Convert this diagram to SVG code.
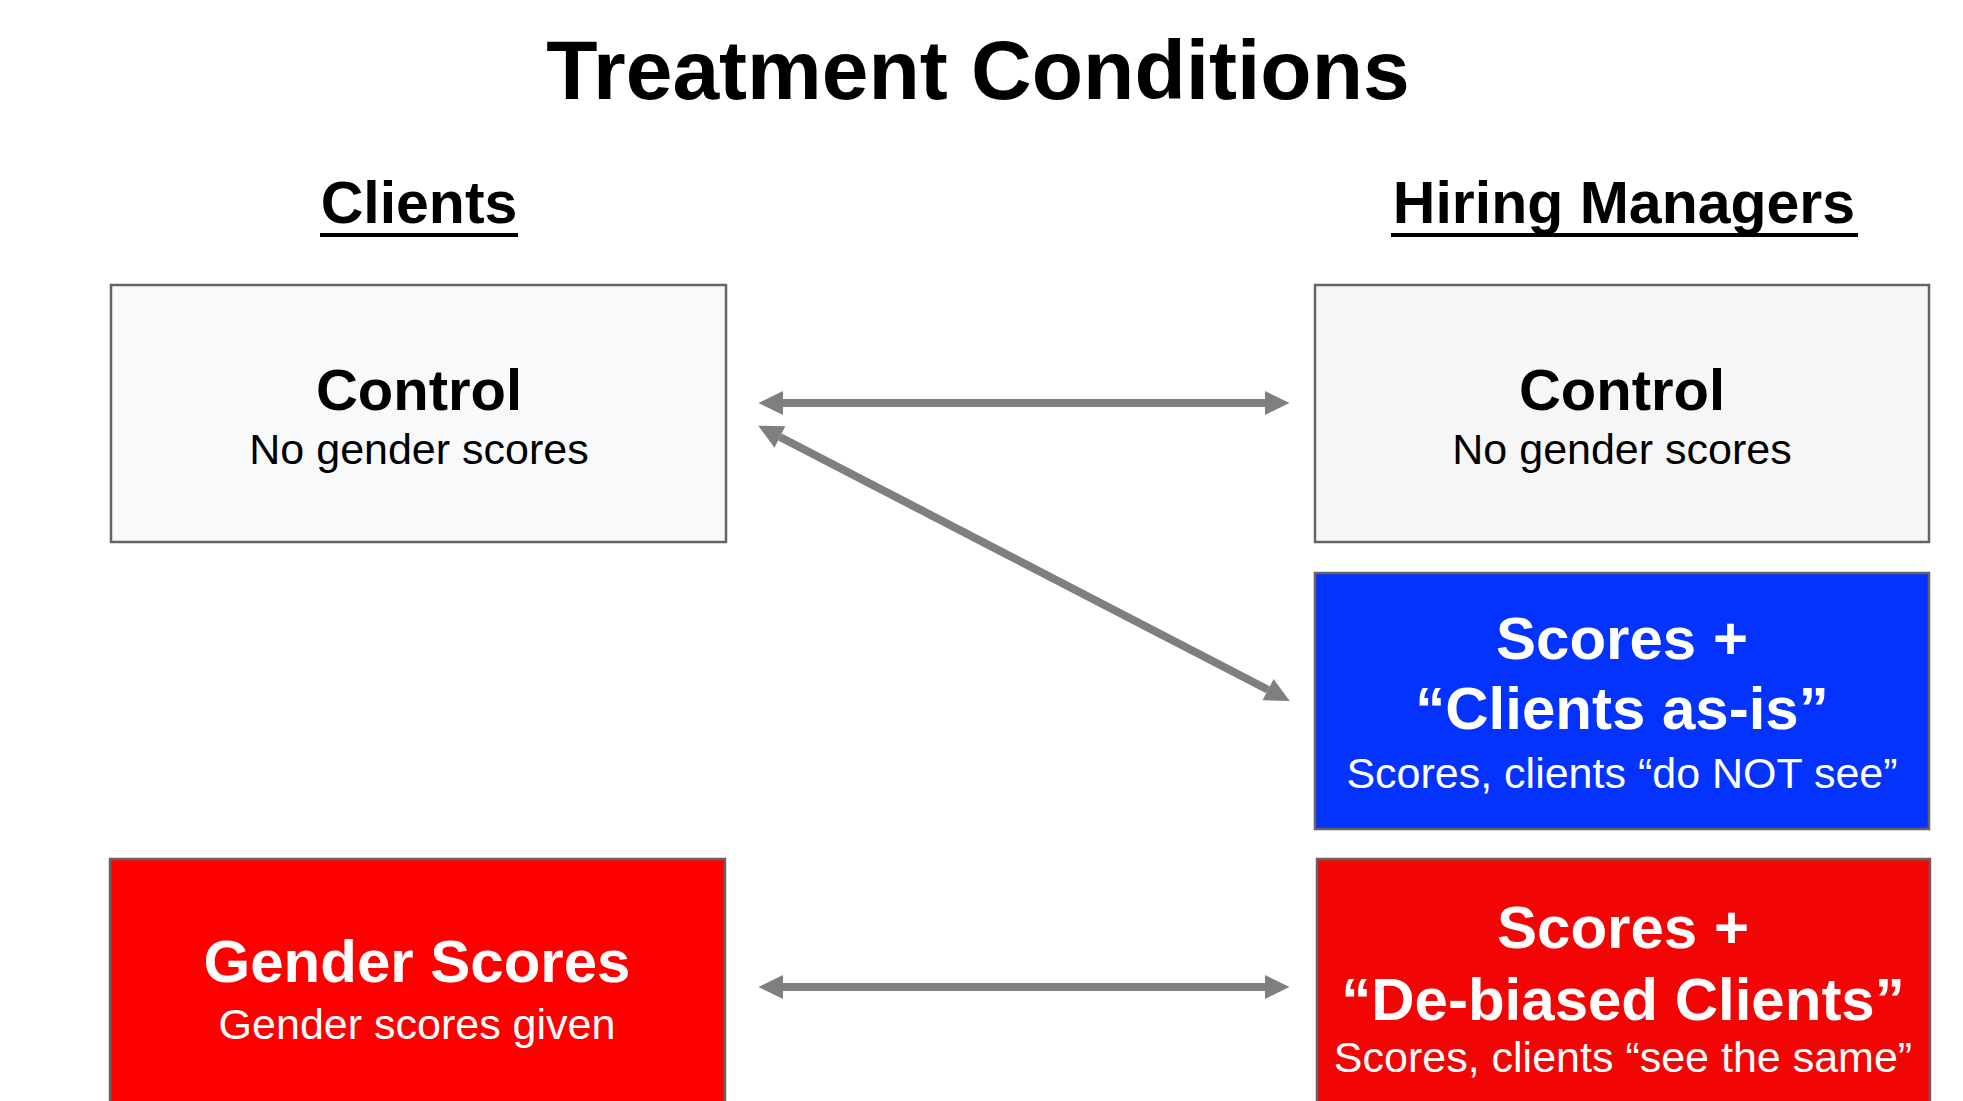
<svg xmlns="http://www.w3.org/2000/svg" width="1963" height="1101" viewBox="0 0 1963 1101">
  <style>
    text { font-family: "Liberation Sans", Arial, sans-serif; text-anchor: middle; }
    .title { font-size: 84px; font-weight: bold; fill: #000; }
    .head { font-size: 59px; font-weight: bold; fill: #000; }
    .big { font-size: 58px; font-weight: bold; }
    .big60 { font-size: 60px; font-weight: bold; }
    .sub { font-size: 43px; }
    .dark { fill: #000; }
    .light { fill: #fff; }
    .box { stroke: #646464; stroke-width: 2.5; }
    .conn { stroke: #7f7f7f; stroke-width: 8; fill: none; }
  </style>
  <defs>
    <marker id="ah" markerUnits="userSpaceOnUse" markerWidth="26" markerHeight="26" refX="0" refY="12" orient="auto-start-reverse" viewBox="0 0 26 24">
      <path d="M0,0 L24.5,12 L0,24 z" fill="#7f7f7f"/>
    </marker>
  </defs>
  <rect width="1963" height="1101" fill="#fff"/>

  <text class="title" x="978" y="99">Treatment Conditions</text>

  <g id="header-clients">
    <text class="head" x="419" y="223">Clients</text>
    <rect x="320" y="233" width="198" height="4" fill="#000"/>
  </g>
  <g id="header-managers">
    <text class="head" x="1624" y="223">Hiring Managers</text>
    <rect x="1391" y="233" width="467" height="4" fill="#000"/>
  </g>

  <g id="client-control">
    <rect class="box" x="111" y="285" width="615" height="257" fill="#f8f9fa"/>
    <text class="big dark" x="419" y="410">Control</text>
    <text class="sub dark" x="419" y="464">No gender scores</text>
  </g>

  <g id="manager-control">
    <rect class="box" x="1315" y="285" width="614" height="257" fill="#f6f6f6"/>
    <text class="big dark" x="1622" y="410">Control</text>
    <text class="sub dark" x="1622" y="464">No gender scores</text>
  </g>

  <g id="manager-asis">
    <rect class="box" x="1315" y="573" width="614" height="256" fill="#0433ff"/>
    <text class="big60 light" x="1622" y="659">Scores +</text>
    <text class="big60 light" x="1622" y="729">“Clients as-is”</text>
    <text class="sub light" x="1622" y="788">Scores, clients “do NOT see”</text>
  </g>

  <g id="client-gender">
    <rect class="box" x="110" y="859" width="615" height="260" fill="#ff0000"/>
    <text class="big60 light" x="417" y="982">Gender Scores</text>
    <text class="sub light" x="417" y="1039">Gender scores given</text>
  </g>

  <g id="manager-debiased">
    <rect class="box" x="1317" y="859" width="613" height="260" fill="#f10505"/>
    <text class="big60 light" x="1623" y="948">Scores +</text>
    <text class="big60 light" x="1623" y="1020">“De-biased Clients”</text>
    <text class="sub light" x="1623" y="1072">Scores, clients “see the same”</text>
  </g>

  <g id="connectors">
    <line class="conn" x1="783" y1="403" x2="1265" y2="403" marker-start="url(#ah)" marker-end="url(#ah)"/>
    <line class="conn" x1="780" y1="437" x2="1268" y2="689.7" marker-start="url(#ah)" marker-end="url(#ah)"/>
    <line class="conn" x1="783" y1="987" x2="1265" y2="987" marker-start="url(#ah)" marker-end="url(#ah)"/>
  </g>
</svg>
